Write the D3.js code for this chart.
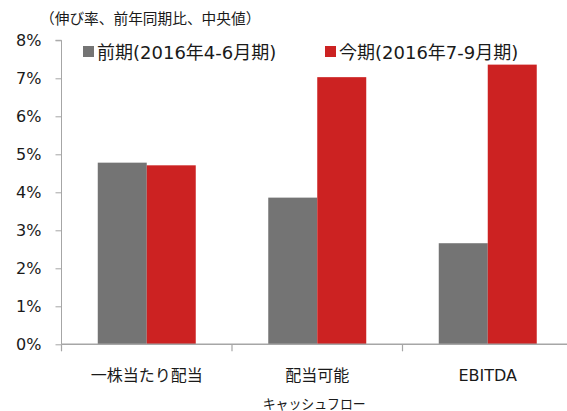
<!DOCTYPE html>
<html><head><meta charset="utf-8">
<script src="https://cdn.jsdelivr.net/npm/d3@7"></script>
<style>
body{margin:0;background:#fff;}
text{font-family:"DejaVu Sans","Noto Sans CJK JP",sans-serif;fill:#1a1a1a;}
</style></head>
<body><svg id="c" width="567" height="411"></svg>
<script>
const categories = ["一株当たり配当", "配当可能\nキャッシュフロー", "EBITDA"];
const seriesNames = ["前期(2016年4-6月期)", "今期(2016年7-9月期)"];
const prevValues = [4.78, 3.86, 2.66];
const currValues = [4.71, 7.03, 7.36];
const yTicks = [0, 1, 2, 3, 4, 5, 6, 7, 8];
const colors = ["#747474", "#cc2222"];
const title = "（伸び率、前年同期比、中央値）";

const svg = d3.select("#c");
const y = d3.scaleLinear().domain([0, 8]).range([344.3, 40.3]);
const x0 = d3.scaleBand().domain(categories).range([61.5, 573]).padding(0);
const x1 = d3.scaleBand().domain(seriesNames).range([0, x0.bandwidth()]).paddingInner(0).paddingOuter(0.74);
const axisColor = "#a6a6a6";

// title
svg.append("text").attr("x", 40).attr("y", 24).attr("font-size", 14.7).text(title);

// y axis
const yAxis = svg.append("g").attr("transform", "translate(61.5,0)")
  .call(d3.axisLeft(y).tickValues(yTicks).tickSize(6).tickFormat(d => d + "%"));
yAxis.select(".domain").attr("stroke", axisColor).attr("d", `M-6,${y(8)}H0V${y(0)}`);
yAxis.selectAll(".tick line").attr("stroke", axisColor);
yAxis.selectAll(".tick text").attr("x", -20).attr("font-size", 16).attr("fill", "#1a1a1a")
  .attr("font-family", "'DejaVu Sans',sans-serif");

// bars
const data = categories.map((c, i) => ({c, vals: [prevValues[i], currValues[i]]}));
const g = svg.append("g");
data.forEach(d => {
  d.vals.forEach((v, j) => {
    g.append("rect")
      .attr("x", x0(d.c) + x1(seriesNames[j]))
      .attr("y", y(v))
      .attr("width", x1.bandwidth())
      .attr("height", y(0) - y(v))
      .attr("fill", colors[j]);
  });
});

// x axis
svg.append("line").attr("x1", 61.5).attr("x2", 567).attr("y1", y(0)).attr("y2", y(0))
  .attr("stroke", axisColor).attr("stroke-width", 1.5);
categories.forEach(c => {
  svg.append("line").attr("x1", x0(c)).attr("x2", x0(c)).attr("y1", y(0)).attr("y2", y(0) + 7)
    .attr("stroke", axisColor).attr("stroke-width", 1.2);
});
categories.forEach(c => {
  const lines = c.split("\n");
  const cx = x0(c) + x0.bandwidth() / 2;
  lines.forEach((ln, k) => {
    const t = svg.append("text").attr("x", cx)
      .attr("y", 381 + k * 28).attr("text-anchor", "middle").attr("font-size", 16).text(ln);
    if (k === 1) {
      t.attr("font-size", 14).attr("textLength", 103).attr("lengthAdjust", "spacingAndGlyphs").attr("x", cx - 3);
    }
  });
});

// legend
const legendX = [83, 325];
seriesNames.forEach((s, j) => {
  svg.append("rect").attr("x", legendX[j]).attr("y", 46).attr("width", 11).attr("height", 11).attr("fill", colors[j]);
  svg.append("text").attr("x", legendX[j] + 14).attr("y", 58.5).attr("font-size", 18).text(s);
});
</script></body></html>
